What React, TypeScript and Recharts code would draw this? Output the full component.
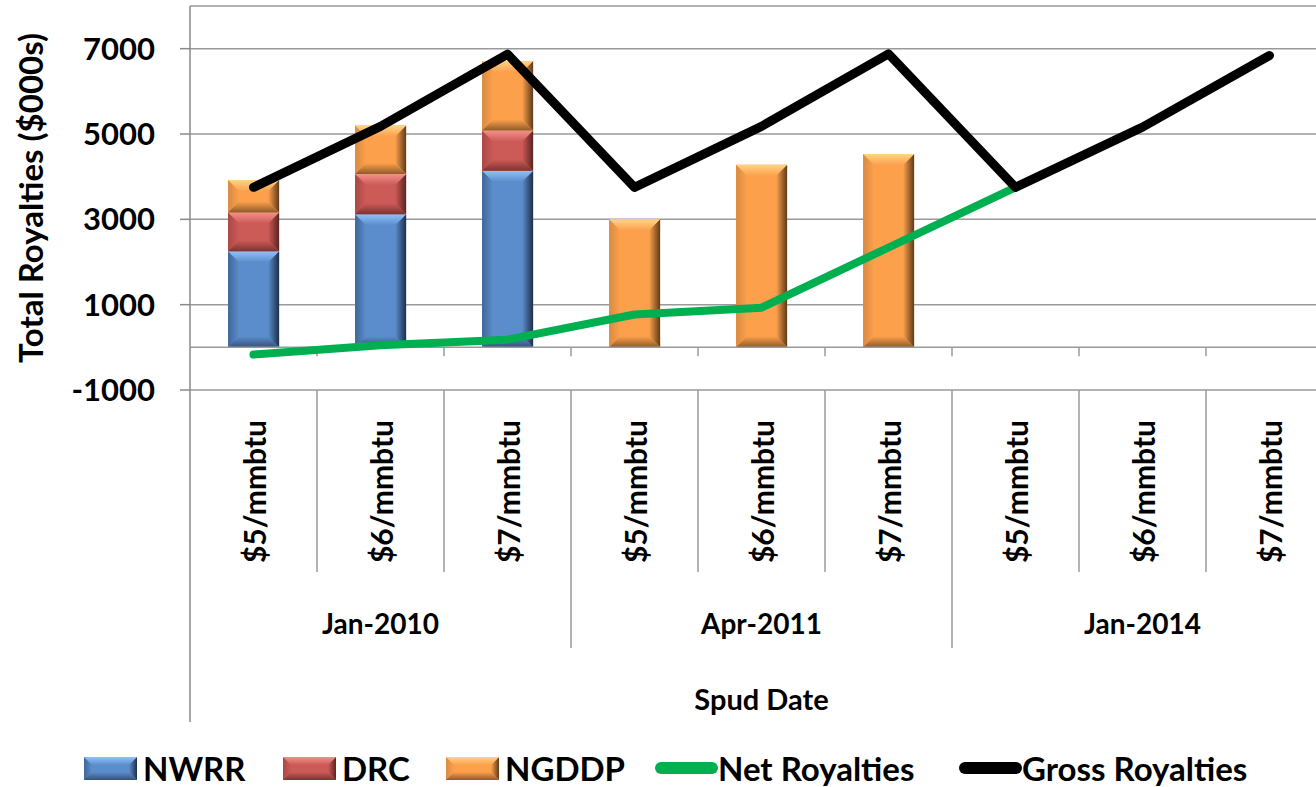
import React from "react";
import {
  ComposedChart,
  Bar,
  Line,
  XAxis,
  YAxis,
  CartesianGrid,
  ReferenceLine,
  Legend,
} from "recharts";

// categories (two-level axis)
const groups = ["Jan-2010", "Apr-2011", "Jan-2014"];
const prices = ["$5/mmbtu", "$6/mmbtu", "$7/mmbtu"];

// series values, $000s, one per category
const nwrr = [2250, 3120, 4140, 0, 0, 0, 0, 0, 0];
const drc = [910, 940, 940, 0, 0, 0, 0, 0, 0];
const ngddp = [760, 1140, 1630, 3000, 4280, 4530, 0, 0, 0];
const netRoyalties = [-170, 50, 180, 770, 930, 2340, 3750, null, null];
const grossRoyalties = [3750, 5180, 6870, 3750, 5180, 6880, 3750, 5160, 6840];

const yTicks = [-1000, 1000, 3000, 5000, 7000];

const data = groups.flatMap((g, gi) =>
  prices.map((p, pi) => {
    const i = gi * prices.length + pi;
    return {
      key: `${g} ${p}`,
      NWRR: nwrr[i],
      DRC: drc[i],
      NGDDP: ngddp[i],
      net: netRoyalties[i],
      gross: grossRoyalties[i],
    };
  })
);

const FONT = "Lato, 'Open Sans', sans-serif";
const GRID = "#9a9a9a";
const AXIS = "#8a8a8a";

const PLOT_W = 1143;
const BAND = PLOT_W / data.length;

const PAL: Record<string, any> = {
  NWRR: { base: "#5b8dcd", light: "#90c2f8", dark: "#34517a", edgeL: "#3f6699", edgeR: "#1d2f4a" },
  DRC: { base: "#cc5a57", light: "#f58f8a", dark: "#7a3432", edgeL: "#a94846", edgeR: "#5a2422" },
  NGDDP: { base: "#fca04c", light: "#ffd487", dark: "#8d5a2b", edgeL: "#d98a42", edgeR: "#5e3a1a" },
};

const BevelDefs = ({ prefix }: { prefix: string }) => (
  <defs>
    {Object.keys(PAL).map((k) => {
      const c = PAL[k];
      const id = `${prefix}-${k}`;
      return (
        <React.Fragment key={k}>
          <linearGradient id={`${id}-top`} x1="0" y1="0" x2="0" y2="1">
            <stop offset="0%" stopColor={c.light} />
            <stop offset="100%" stopColor={c.base} />
          </linearGradient>
          <linearGradient id={`${id}-bot`} x1="0" y1="0" x2="0" y2="1">
            <stop offset="0%" stopColor={c.base} />
            <stop offset="100%" stopColor={c.dark} />
          </linearGradient>
          <linearGradient id={`${id}-left`} x1="0" y1="0" x2="1" y2="0">
            <stop offset="0%" stopColor={c.edgeL} />
            <stop offset="100%" stopColor={c.base} />
          </linearGradient>
          <linearGradient id={`${id}-right`} x1="0" y1="0" x2="1" y2="0">
            <stop offset="0%" stopColor={c.base} />
            <stop offset="100%" stopColor={c.edgeR} />
          </linearGradient>
        </React.Fragment>
      );
    })}
  </defs>
);

function Bevel({ x, y, w, h, k, prefix, size = 11 }: any) {
  if (!h || h <= 0 || !w) return <g />;
  const b = Math.max(0, Math.min(size, h / 2, w / 2));
  const id = `${prefix}-${k}`;
  const x2 = x + w;
  const y2 = y + h;
  return (
    <g>
      <rect x={x} y={y} width={w} height={h} fill={PAL[k].base} />
      <polygon points={`${x},${y} ${x + b},${y + b} ${x + b},${y2 - b} ${x},${y2}`} fill={`url(#${id}-left)`} />
      <polygon points={`${x2},${y} ${x2 - b},${y + b} ${x2 - b},${y2 - b} ${x2},${y2}`} fill={`url(#${id}-right)`} />
      <polygon points={`${x},${y} ${x2},${y} ${x2 - b},${y + b} ${x + b},${y + b}`} fill={`url(#${id}-top)`} />
      <polygon points={`${x},${y2} ${x2},${y2} ${x2 - b},${y2 - b} ${x + b},${y2 - b}`} fill={`url(#${id}-bot)`} />
    </g>
  );
}

const barShape = (k: string) => (p: any) =>
  <Bevel x={p.x} y={p.y} w={p.width} h={p.height} k={k} prefix="bar" />;

const CategoryTick = (props: any) => {
  const { x, y, index } = props;
  const half = BAND / 2;
  const n = prices.length;
  const groupEnd = (index + 1) % n === 0;
  return (
    <g>
      <text
        x={x}
        y={y + 30}
        transform={`rotate(-90 ${x} ${y + 30})`}
        textAnchor="end"
        dominantBaseline="central"
        fontSize={30}
        fontWeight={700}
        fill="#000"
      >
        {prices[index % n]}
      </text>
      <line x1={x + half} x2={x + half} y1={y} y2={y + (groupEnd ? 258 : 182)} stroke={GRID} strokeWidth={1.5} />
      {index === 0 && (
        <line x1={x - half} x2={x - half} y1={y} y2={y + 332} stroke={AXIS} strokeWidth={1.5} />
      )}
      {index % n === 1 && (
        <text x={x} y={y + 233} textAnchor="middle" dominantBaseline="central" fontSize={28} fontWeight={700} fill="#000">
          {groups[Math.floor(index / n)]}
        </text>
      )}
    </g>
  );
};

const ZeroAxis = (props: any) => {
  const { x1, x2, y1 } = props;
  const step = (x2 - x1) / data.length;
  return (
    <g>
      <line x1={x1} x2={x2} y1={y1} y2={y1} stroke={GRID} strokeWidth={1.5} />
      {data.slice(1).map((_, i) => (
        <line key={i} x1={x1 + step * (i + 1)} x2={x1 + step * (i + 1)} y1={y1} y2={y1 + 9} stroke={GRID} strokeWidth={1.5} />
      ))}
    </g>
  );
};

const YTitle = (props: any) => {
  const vb = props.viewBox;
  const cx = 30;
  const cy = vb.y + vb.height / 2;
  return (
    <text
      x={cx}
      y={cy}
      transform={`rotate(-90 ${cx} ${cy})`}
      textAnchor="middle"
      dominantBaseline="central"
      fontSize={33}
      fontWeight={700}
      fill="#000"
    >
      Total Royalties ($000s)
    </text>
  );
};

const XTitle = (props: any) => {
  const vb = props.viewBox;
  return (
    <text
      x={vb.x + vb.width / 2}
      y={vb.y + 308}
      textAnchor="middle"
      dominantBaseline="central"
      fontSize={29}
      fontWeight={700}
      fill="#000"
    >
      Spud Date
    </text>
  );
};

const legendItems = [
  { name: "NWRR", kind: "bar", key: "NWRR" },
  { name: "DRC", kind: "bar", key: "DRC" },
  { name: "NGDDP", kind: "bar", key: "NGDDP" },
  { name: "Net Royalties", kind: "line", color: "#00b050" },
  { name: "Gross Royalties", kind: "line", color: "#000000" },
];
// left edge of each legend entry
const LEGEND_X = [84, 283, 446, 655, 959];

const LegendContent = () => (
  <div style={{ position: "relative", height: 44, width: 1316, fontFamily: FONT }}>
    {legendItems.map((it, i) => (
      <div
        key={it.name}
        style={{ position: "absolute", left: LEGEND_X[i], top: 0, height: 44, display: "flex", alignItems: "center" }}
      >
        {it.kind === "bar" ? (
          <svg width={53} height={23} style={{ display: "block" }}>
            <BevelDefs prefix={`lg${i}`} />
            <Bevel x={0} y={0} w={53} h={23} k={it.key} prefix={`lg${i}`} size={8} />
          </svg>
        ) : (
          <svg width={63} height={12} style={{ display: "block" }}>
            <rect x={0} y={0} width={63} height={12} rx={6} fill={it.color} />
          </svg>
        )}
        <span
          style={{
            marginLeft: it.kind === "bar" ? 6 : 0,
            fontSize: 33,
            fontWeight: 700,
            color: "#000",
            whiteSpace: "nowrap",
            lineHeight: "44px",
          }}
        >
          {it.name}
        </span>
      </div>
    ))}
  </div>
);

export default function App() {
  return (
    <div
      style={{
        position: "absolute",
        left: 0,
        top: 0,
        width: 1316,
        height: 787,
        overflow: "hidden",
        background: "#fff",
        fontFamily: FONT,
      }}
    >
      <ComposedChart
        width={1345}
        height={787}
        data={data}
        margin={{ top: 6, right: 12, left: 0, bottom: 0 }}
        barCategoryGap="30%"
      >
        <BevelDefs prefix="bar" />
        <CartesianGrid horizontal vertical={false} stroke={GRID} strokeWidth={1.5} />
        <XAxis
          dataKey="key"
          height={397}
          interval={0}
          axisLine={false}
          tickLine={false}
          tickSize={0}
          tickMargin={0}
          tick={<CategoryTick />}
          label={<XTitle />}
        />
        <YAxis
          width={190}
          domain={[-1000, 8000]}
          ticks={yTicks}
          allowDataOverflow
          axisLine={{ stroke: AXIS, strokeWidth: 1.5 }}
          tickLine={{ stroke: AXIS, strokeWidth: 1.5 }}
          tickSize={10}
          tickMargin={25}
          tick={{ fill: "#000", fontSize: 31, fontWeight: 700 }}
          label={<YTitle />}
        />
        <ReferenceLine y={0} shape={<ZeroAxis />} />
        <Bar dataKey="NWRR" stackId="s" fill={PAL.NWRR.base} shape={barShape("NWRR")} isAnimationActive={false} />
        <Bar dataKey="DRC" stackId="s" fill={PAL.DRC.base} shape={barShape("DRC")} isAnimationActive={false} />
        <Bar dataKey="NGDDP" stackId="s" fill={PAL.NGDDP.base} shape={barShape("NGDDP")} isAnimationActive={false} />
        <Line
          dataKey="net"
          name="Net Royalties"
          type="linear"
          stroke="#00b050"
          strokeWidth={8}
          strokeLinecap="round"
          strokeLinejoin="round"
          dot={false}
          activeDot={false}
          isAnimationActive={false}
        />
        <Line
          dataKey="gross"
          name="Gross Royalties"
          type="linear"
          stroke="#000000"
          strokeWidth={9}
          strokeLinecap="round"
          strokeLinejoin="round"
          dot={false}
          activeDot={false}
          isAnimationActive={false}
        />
        <Legend
          layout="horizontal"
          verticalAlign="middle"
          align="center"
          content={<LegendContent />}
          wrapperStyle={{ left: 0, top: 746, width: 1316 }}
        />
      </ComposedChart>
    </div>
  );
}
